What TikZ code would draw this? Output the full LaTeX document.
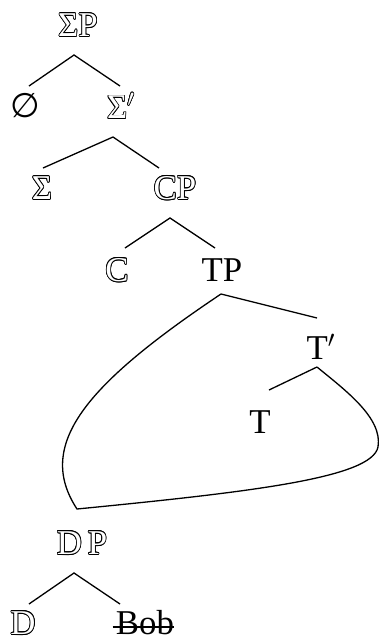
\documentclass[tikz,border=0pt]{standalone}
\usepackage{fontspec}
\setmainfont{Liberation Serif}
\newfontfamily\symfont{DejaVu Sans}
\begin{document}
\begin{tikzpicture}[x=0.5pt,y=-0.5pt,
  lbl/.style={inner sep=0pt,font=\fontsize{17.4}{20}\selectfont},
  edge/.style={line width=0.65pt,line join=miter}]
\newcommand{\hnode}[3]{%
  \foreach \ang in {0,30,...,330}
    \node[lbl,shift={(\ang:0.38pt)}] at (#2) {#3};
  \node[lbl,text=white] (#1) at (#2) {#3};}
\useasboundingbox (0,0) rectangle (379,639);
% labels
\hnode{sp}{78,25}{ΣP}
\node[lbl] (empty) at (25,106) {\symfont\fontsize{17}{20}\selectfont ∅};
\hnode{sbar}{121,106}{Σ$'$}
\hnode{sig}{42,188}{Σ}
\hnode{cp}{175,188}{CP}
\hnode{c}{117,270}{C}
\node[lbl] (tp) at (222,270) {TP};
\node[lbl] (tbar) at (321,347) {T$'$};
\node[lbl] (t) at (260,422) {T};
\hnode{dp}{82,543}{D\,P}
\hnode{d}{23,623}{D}
\node[lbl] (bob) at (145,623) {Bob};
\draw[line width=0.65pt] ([xshift=-1.5pt,yshift=-2pt]bob.west) -- ([yshift=-2pt]bob.east);
% branch points
\coordinate (sp-a) at (74,55);
\coordinate (sp-l) at (29,86);
\coordinate (sp-r) at (120,86);
\coordinate (sb-a) at (113,137);
\coordinate (sb-l) at (43,168);
\coordinate (sb-r) at (159,168);
\coordinate (cp-a) at (170,218);
\coordinate (cp-l) at (125,248);
\coordinate (cp-r) at (215,248);
\coordinate (tp-a) at (221,294);
\coordinate (tp-r) at (317,318);
\coordinate (tb-a) at (317,367);
\coordinate (tb-l) at (269,390);
\coordinate (tri-bl) at (77,509);
\coordinate (tri-r) at (378,447);
\coordinate (dp-a) at (74,573);
\coordinate (dp-l) at (29,604);
\coordinate (dp-r) at (120,604);
% branches
\draw[edge] (sp-l) -- (sp-a) -- (sp-r);
\draw[edge] (sb-l) -- (sb-a) -- (sb-r);
\draw[edge] (cp-l) -- (cp-a) -- (cp-r);
\draw[edge] (tp-a) -- (tp-r);
\draw[edge] (tb-l) -- (tb-a);
\draw[edge] (tp-a) .. controls (85,385) and (35,445) .. (tri-bl)
  .. controls (250,492) and (372,478) .. (tri-r)
  .. controls (383,418) and (345,390) .. (tb-a);
\draw[edge] (dp-l) -- (dp-a) -- (dp-r);
\end{tikzpicture}
\end{document}
